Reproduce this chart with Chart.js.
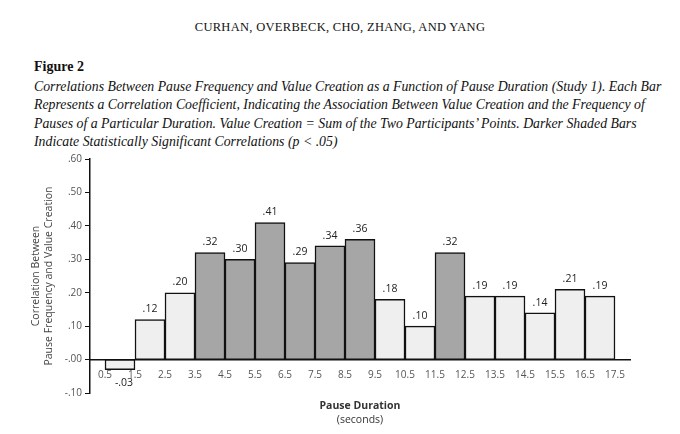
<!DOCTYPE html>
<html>
<head>
<meta charset="utf-8">
<script src="https://cdn.jsdelivr.net/npm/chart.js@4"></script>
<style>
body { margin: 0; background: #fff; width: 680px; height: 434px; position: relative; overflow: hidden; font-family: "Liberation Serif", serif; color: #111; }
#head { position: absolute; top: 20px; width: 680px; text-align: center; font-size: 12.5px; letter-spacing: 0.3px; }
#fig { position: absolute; left: 34px; top: 59px; font-weight: bold; font-size: 14px; }
#cap { position: absolute; left: 34px; top: 78px; width: 632px; font-style: italic; font-size: 13.8px; line-height: 18.3px; }
#wrap { position: absolute; left: 0; top: 150px; width: 680px; height: 252px; }
#xt { position: absolute; top: 398px; left: 300px; width: 120px; text-align: center; font-family: "Open Sans", sans-serif; font-size: 10.5px; line-height: 14px; color: #333; }
</style>
</head>
<body>
<div id="head">CURHAN, OVERBECK, CHO, ZHANG, AND YANG</div>
<div id="fig">Figure 2</div>
<div id="cap">Correlations Between Pause Frequency and Value Creation as a Function of Pause Duration (Study 1). Each Bar Represents a Correlation Coefficient, Indicating the Association Between Value Creation and the Frequency of Pauses of a Particular Duration. Value Creation = Sum of the Two Participants’ Points. Darker Shaded Bars Indicate Statistically Significant Correlations (p &lt; .05)</div>
<div id="wrap"><canvas id="c" width="680" height="252"></canvas></div>
<div id="xt"><b>Pause Duration</b><br>(seconds)</div>
<script>
// bar centres (seconds) and correlations
const durations = [1, 2, 3, 4, 5, 6, 7, 8, 9, 10, 11, 12, 13, 14, 15, 16, 17];
const correlations = [-0.03, 0.12, 0.20, 0.32, 0.30, 0.41, 0.29, 0.34, 0.36, 0.18, 0.10, 0.32, 0.19, 0.19, 0.14, 0.21, 0.19];
const significant = [false, false, false, true, true, true, true, true, true, false, false, true, false, false, false, false, false];

function fmt(v) {
    const s = Math.abs(v).toFixed(2).replace(/^0/, '');
    return v < 0 ? '-' + s : s;
}

// write the value over each bar (under it when negative)
const valueLabels = {
    id: 'valueLabels',
    afterDatasetsDraw(chart) {
        const ctx = chart.ctx;
        const meta = chart.getDatasetMeta(0);
        ctx.save();
        ctx.font = '10.5px "Open Sans", sans-serif';
        ctx.fillStyle = '#222';
        ctx.textAlign = 'center';
        meta.data.forEach((bar, i) => {
            const v = correlations[i];
            if (v < 0) {
                ctx.textBaseline = 'top';
                ctx.fillText(fmt(v), bar.x + 4, bar.y + 8);
            } else {
                ctx.textBaseline = 'bottom';
                ctx.fillText(fmt(v), bar.x, bar.y - 5);
            }
        });
        ctx.restore();
    }
};

new Chart(document.getElementById('c'), {
    type: 'bar',
    data: {
        datasets: [{
            data: durations.map((d, i) => ({ x: d, y: correlations[i] })),
            backgroundColor: significant.map(s => s ? '#a6a6a6' : '#efefef'),
            borderColor: '#111',
            borderWidth: 1.5,
            borderSkipped: false,
            barPercentage: 1,
            categoryPercentage: 1
        }]
    },
    options: {
        responsive: false,
        animation: false,
        layout: { padding: { left: 30, right: 50, top: 9, bottom: 0 } },
        plugins: { legend: { display: false }, tooltip: { enabled: false } },
        scales: {
            x: {
                type: 'linear',
                min: 0.5,
                max: 17.5,
                position: { y: 0 },
                grid: { display: false },
                border: { color: '#111', width: 1.5 },
                ticks: {
                    stepSize: 1,
                    autoSkip: false,
                    maxRotation: 0,
                    color: '#555',
                    font: { family: 'Open Sans', size: 10 },
                    padding: 2,
                    callback: v => v.toFixed(1)
                },
                afterBuildTicks: axis => {
                    axis.ticks = [];
                    for (let v = 0.5; v <= 17.5; v += 1) axis.ticks.push({ value: v });
                }
            },
            y: {
                min: -0.10,
                max: 0.60,
                grid: { drawOnChartArea: false, drawTicks: true, tickLength: 5, color: '#111' },
                border: { color: '#111', width: 1.5 },
                ticks: {
                    stepSize: 0.1,
                    color: '#555',
                    font: { family: 'Open Sans', size: 10 },
                    padding: 3,
                    callback: v => fmt(v)
                },
                afterFit: axis => { axis.width = 60; },
                title: {
                    display: true,
                    text: ['Correlation Between', 'Pause Frequency and Value Creation'],
                    color: '#444',
                    font: { family: 'Open Sans', size: 10.5 },
                    padding: 0
                }
            }
        }
    },
    plugins: [valueLabels]
});
</script>
</body>
</html>
